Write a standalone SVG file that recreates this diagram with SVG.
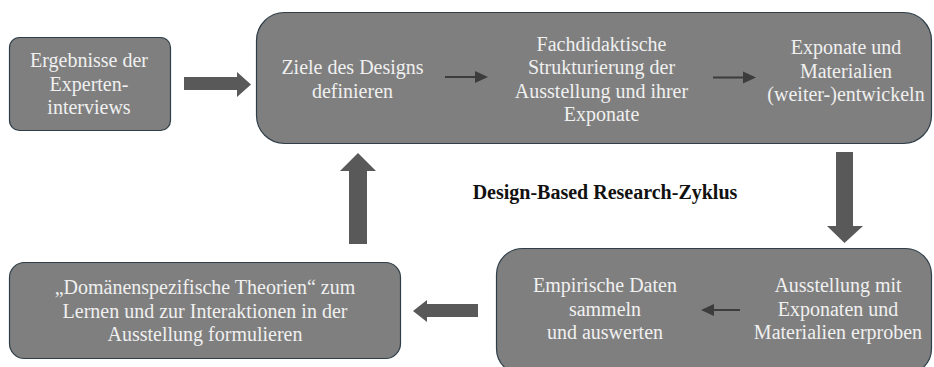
<svg xmlns="http://www.w3.org/2000/svg" width="934" height="367" viewBox="0 0 934 367">
  <style>
    .box { fill: #7f7f7f; stroke: #2f3e48; stroke-width: 1.2; }
    .lbl { font-family: "Liberation Serif", "Times New Roman", serif; font-size: 20px; fill: #f0f0f0; text-anchor: middle; }
    .title { font-family: "Liberation Serif", "Times New Roman", serif; font-size: 20px; font-weight: bold; fill: #111; text-anchor: middle; }
    .block { fill: #595959; }
    .thin { stroke: #3c3c3c; stroke-width: 2; fill: none; }
    .head { fill: #3c3c3c; }
  </style>
  <rect width="934" height="367" fill="#ffffff"/>

  <!-- Ergebnisse der Experteninterviews -->
  <g id="node-interviews">
    <rect class="box" x="9.5" y="37.5" width="161" height="93" rx="10"/>
    <text class="lbl" x="89" y="67">Ergebnisse der</text>
    <text class="lbl" x="89" y="90.5">Experten-</text>
    <text class="lbl" x="89" y="114">interviews</text>
  </g>

  <!-- Design phase: goals, structuring, development -->
  <g id="node-design">
    <rect class="box" x="256.5" y="12.5" width="675" height="131" rx="28"/>
    <text class="lbl" x="352.5" y="74">Ziele des Designs</text>
    <text class="lbl" x="352.5" y="97.5">definieren</text>
    <text class="lbl" x="601.5" y="50.5">Fachdidaktische</text>
    <text class="lbl" x="601.5" y="74">Strukturierung der</text>
    <text class="lbl" x="601.5" y="97.5">Ausstellung und ihrer</text>
    <text class="lbl" x="601.5" y="121">Exponate</text>
    <text class="lbl" x="846" y="54">Exponate und</text>
    <text class="lbl" x="846" y="77.5">Materialien</text>
    <text class="lbl" x="846" y="101">(weiter-)entwickeln</text>
  </g>

  <!-- Testing and evaluation -->
  <g id="node-test">
    <rect class="box" x="496.5" y="248.5" width="435" height="126" rx="26"/>
    <text class="lbl" x="605" y="292">Empirische Daten</text>
    <text class="lbl" x="605" y="315.5">sammeln</text>
    <text class="lbl" x="605" y="339">und auswerten</text>
    <text class="lbl" x="838" y="292">Ausstellung mit</text>
    <text class="lbl" x="838" y="315.5">Exponaten und</text>
    <text class="lbl" x="838" y="339">Materialien erproben</text>
  </g>

  <!-- Domain-specific theories -->
  <g id="node-theories">
    <rect class="box" x="9.5" y="262.5" width="391" height="96" rx="15"/>
    <text class="lbl" x="205" y="294">„Domänenspezifische Theorien“ zum</text>
    <text class="lbl" x="205" y="317.5">Lernen und zur Interaktionen in der</text>
    <text class="lbl" x="205" y="341">Ausstellung formulieren</text>
  </g>

  <text class="title" x="605" y="199">Design-Based Research-Zyklus</text>

  <g id="connectors">
    <!-- block arrows of the cycle -->
    <polygon class="block" points="184,77 237,77 237,72 251,84.5 237,97 237,90 184,90"/>
    <polygon class="block" points="836,152 853,152 853,226 863,226 844.5,243 827,226 836,226"/>
    <polygon class="block" points="478,304 427,304 427,300 413,311 427,322 427,317 478,317"/>
    <polygon class="block" points="349,244 349,171 340,171 358,153 376,171 367,171 367,244"/>
    <!-- thin arrows inside the boxes -->
    <line class="thin" x1="445" y1="77" x2="476" y2="77"/>
    <polygon class="head" points="475,71 488,77 475,83"/>
    <line class="thin" x1="713" y1="77.5" x2="744" y2="77.5"/>
    <polygon class="head" points="743,71.5 756,77.5 743,83.5"/>
    <line class="thin" x1="740" y1="310" x2="713" y2="310"/>
    <polygon class="head" points="714,304 701,310 714,316"/>
  </g>
</svg>
